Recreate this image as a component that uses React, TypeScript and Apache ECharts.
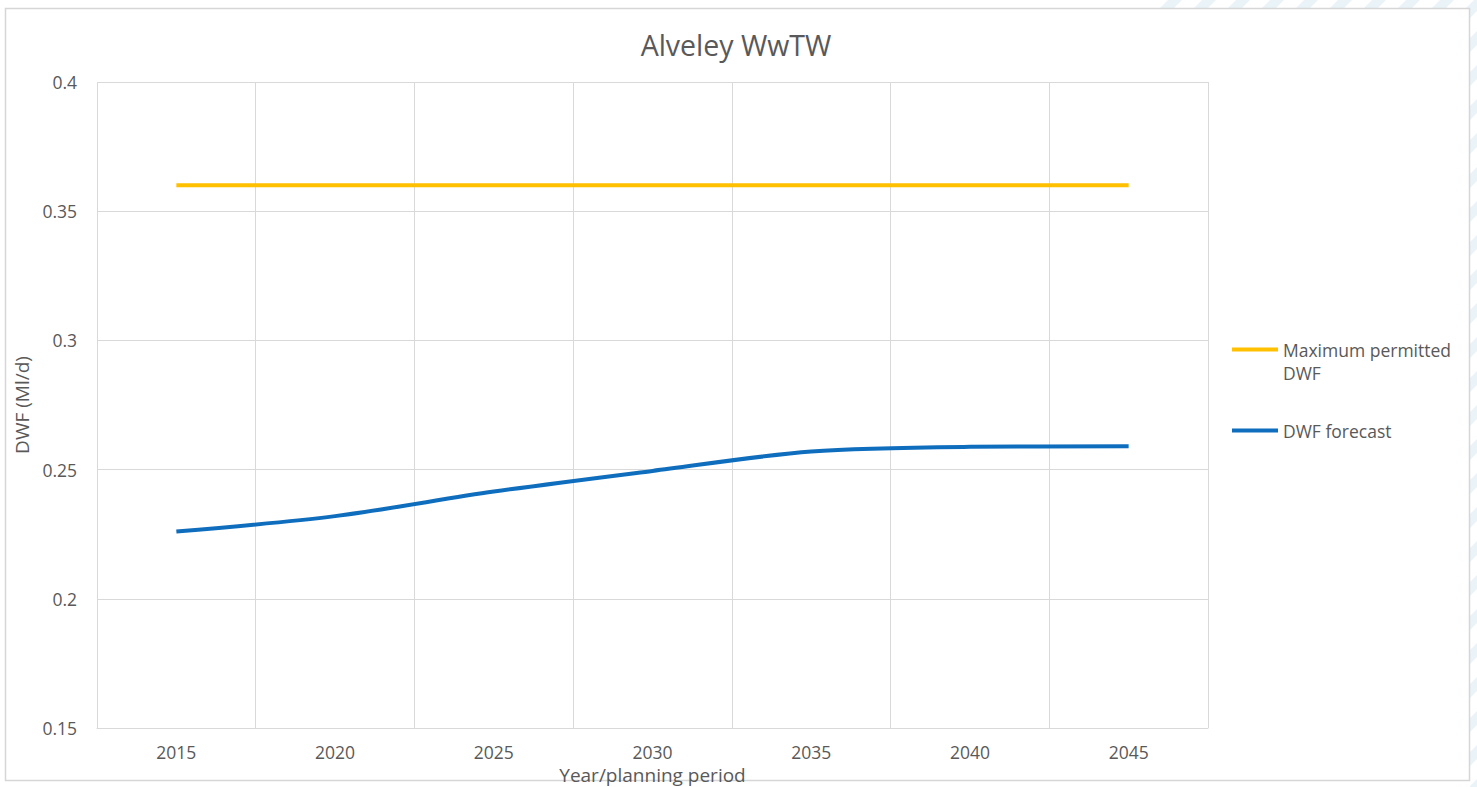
import React, { useEffect, useRef } from "react";
import * as echarts from "echarts";

// Planning years and flow values (Ml/d)
const years = ["2015", "2020", "2025", "2030", "2035", "2040", "2045"];
const maxPermittedDwf = [0.36, 0.36, 0.36, 0.36, 0.36, 0.36, 0.36];
const dwfForecast = [0.226, 0.232, 0.2415, 0.2495, 0.257, 0.2588, 0.259];

const seriesNames = ["Maximum permitted DWF", "DWF forecast"];
const seriesColors = ["#FFC000", "#0F6DBE"];

const FONT = "'Open Sans', 'Liberation Sans', sans-serif";
const TEXT_COLOR = "#595959";
const GRID_COLOR = "#d9d9d9";

// Decorative diagonal stripes in the page margin behind the chart frame
function buildStripes(): any[] {
  const items: any[] = [];
  const period = 34;
  const w = 14;
  for (let x0 = 1100; x0 < 2300; x0 += period) {
    items.push({
      type: "polygon",
      z: -20,
      silent: true,
      shape: {
        points: [
          [x0, 0],
          [x0 + w, 0],
          [x0 + w - 787, 787],
          [x0 - 787, 787],
        ],
      },
      style: { fill: "#e9f3f8" },
    });
  }
  return items;
}

export default function App() {
  const ref = useRef<HTMLDivElement>(null);

  useEffect(() => {
    if (!ref.current) return;
    const chart = echarts.init(ref.current, undefined, { renderer: "svg" });

    const option: any = {
      animation: false,
      backgroundColor: "#ffffff",
      graphic: [
        ...buildStripes(),
        // keep the stripes to the upper-right margin only
        {
          type: "rect",
          z: -15,
          silent: true,
          shape: { x: 0, y: 0, width: 1150, height: 787 },
          style: { fill: "#ffffff" },
        },
        {
          type: "rect",
          z: -15,
          silent: true,
          shape: { x: 0, y: 779, width: 1470, height: 8 },
          style: { fill: "#ffffff" },
        },
        {
          type: "rect",
          z: -10,
          silent: true,
          shape: { x: 5.5, y: 8.5, width: 1464, height: 772 },
          style: { fill: "#ffffff", stroke: "#d6d6d6", lineWidth: 1.5 },
        },
      ],
      title: {
        text: "Alveley WwTW",
        left: 736,
        textAlign: "center",
        top: 30,
        padding: 0,
        textStyle: {
          fontFamily: FONT,
          fontSize: 28.5,
          fontWeight: "normal",
          color: TEXT_COLOR,
        },
      },
      legend: [
        {
          data: [seriesNames[0]],
          orient: "vertical",
          left: 1232,
          top: 315,
          padding: 0,
          icon: "rect",
          itemWidth: 46,
          itemHeight: 4,
          // leading blank line keeps the key beside the first text line
          formatter: () => "\u00a0\nMaximum permitted\nDWF",
          textStyle: {
            fontFamily: FONT,
            fontSize: 17.5,
            color: TEXT_COLOR,
            lineHeight: 23,
          },
        },
        {
          data: [seriesNames[1]],
          orient: "vertical",
          left: 1232,
          top: 419,
          padding: 0,
          icon: "rect",
          itemWidth: 46,
          itemHeight: 4,
          textStyle: {
            fontFamily: FONT,
            fontSize: 17.5,
            color: TEXT_COLOR,
            lineHeight: 23,
          },
        },
      ],
      grid: {
        left: 97,
        right: 269,
        top: 82,
        bottom: 59,
        containLabel: false,
        outerBoundsMode: "none",
      },
      xAxis: {
        type: "category",
        data: years,
        boundaryGap: true,
        name: "Year/planning period",
        nameLocation: "middle",
        nameGap: 34,
        nameTextStyle: { fontFamily: FONT, fontSize: 19, color: TEXT_COLOR },
        axisLine: { show: true, lineStyle: { color: GRID_COLOR, width: 1 } },
        axisTick: { show: false },
        axisLabel: {
          fontFamily: FONT,
          fontSize: 17.5,
          color: TEXT_COLOR,
          margin: 15,
        },
        splitLine: {
          show: true,
          showMinLine: true,
          showMaxLine: true,
          lineStyle: { color: GRID_COLOR, width: 1 },
        },
      },
      yAxis: {
        type: "value",
        min: 0.15,
        max: 0.4,
        interval: 0.05,
        name: "DWF (Ml/d)",
        nameLocation: "middle",
        nameRotate: 90,
        nameGap: 60,
        nameTextStyle: { fontFamily: FONT, fontSize: 19, color: TEXT_COLOR },
        axisLine: { show: false },
        axisTick: { show: false },
        axisLabel: {
          fontFamily: FONT,
          fontSize: 17.5,
          color: TEXT_COLOR,
          margin: 20,
          formatter: (v: number) => String(parseFloat(v.toFixed(2))),
        },
        splitLine: {
          show: true,
          lineStyle: { color: GRID_COLOR, width: 1 },
        },
      },
      series: [
        {
          name: seriesNames[0],
          type: "line",
          data: maxPermittedDwf,
          color: seriesColors[0],
          symbol: "none",
          lineStyle: { width: 4, color: seriesColors[0] },
        },
        {
          name: seriesNames[1],
          type: "line",
          data: dwfForecast,
          color: seriesColors[1],
          symbol: "none",
          smooth: 0.3,
          lineStyle: { width: 4, color: seriesColors[1] },
        },
      ],
    };

    chart.setOption(option);
    return () => chart.dispose();
  }, []);

  return (
    <div
      ref={ref}
      style={{ position: "fixed", left: 0, top: 0, width: 1477, height: 787 }}
    />
  );
}
